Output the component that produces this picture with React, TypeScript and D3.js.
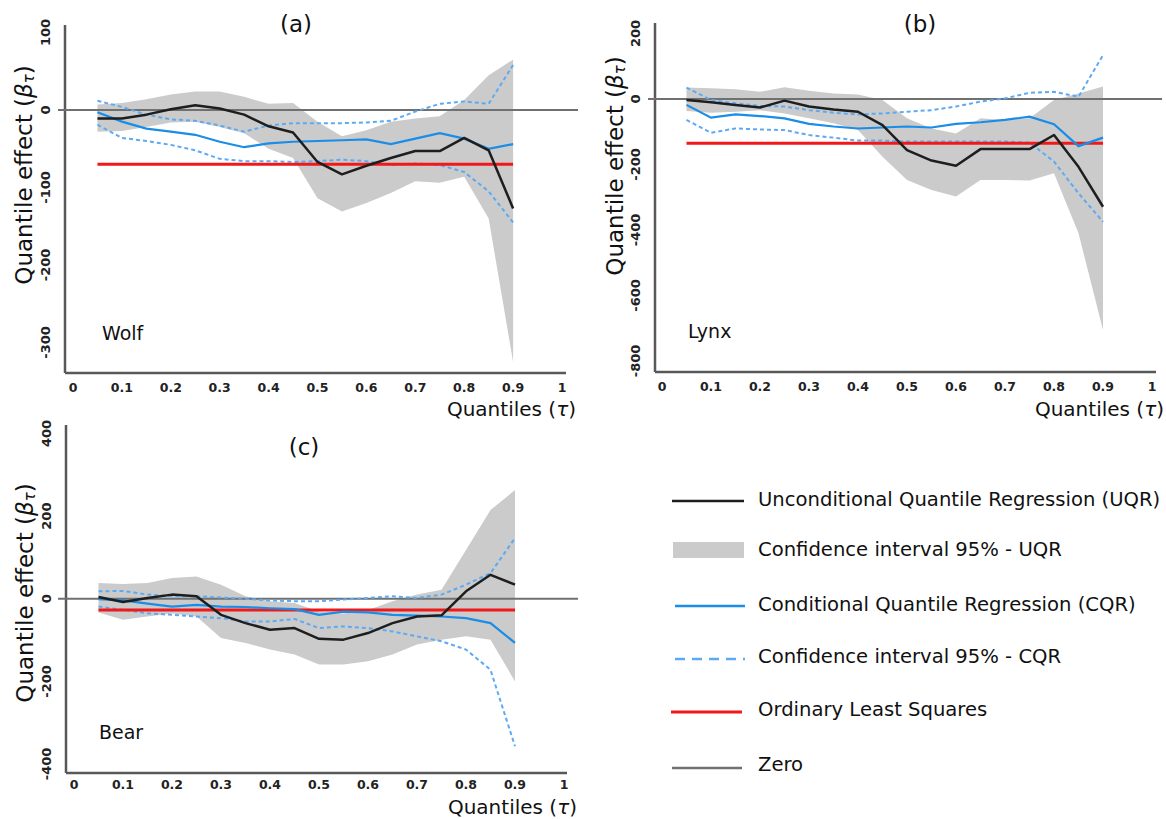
import React from 'react';
import * as d3 from 'd3';

// quantile grid and axis ticks
const quantiles = [0.05, 0.1, 0.15, 0.2, 0.25, 0.3, 0.35, 0.4, 0.45, 0.5, 0.55, 0.6, 0.65, 0.7, 0.75, 0.8, 0.85, 0.9];
const xTicks = [0, 0.1, 0.2, 0.3, 0.4, 0.5, 0.6, 0.7, 0.8, 0.9, 1];

// (a) Wolf
const wolfUqr = [-11, -11, -6, 1, 6, 2, -6, -21, -29, -67, -83, -72, -62, -53, -53, -36, -52, -127];
const wolfUqrHi = [7, 9, 14, 20, 24, 24, 17, 8, 9, -15, -34, -26, -15, -11, -8, 13, 45, 65];
const wolfUqrLo = [-28, -27, -22, -16, -15, -22, -30, -50, -62, -114, -131, -120, -107, -92, -94, -86, -140, -325];
const wolfCqr = [-3, -15, -24, -28, -32, -41, -48, -43, -41, -40, -39, -38, -44, -37, -30, -37, -50, -44];
const wolfCqrHi = [12, 4, -6, -12, -14, -20, -28, -20, -17, -17, -17, -16, -14, -2, 8, 11, 8, 58];
const wolfCqrLo = [-19, -36, -40, -45, -52, -63, -66, -66, -67, -66, -64, -66, -71, -69, -71, -80, -105, -145];
const wolfOls = -70;

// (b) Lynx
const lynxUqr = [-3, -10, -18, -26, -5, -23, -32, -39, -80, -156, -188, -204, -153, -153, -153, -110, -207, -329];
const lynxUqrHi = [35, 33, 30, 22, 36, 25, 17, 14, -3, -59, -90, -105, -59, -64, -59, -3, 17, 38];
const lynxUqrLo = [-37, -42, -39, -34, -44, -59, -74, -95, -176, -247, -278, -298, -247, -247, -249, -227, -410, -705];
const lynxCqr = [-18, -57, -47, -52, -59, -76, -84, -90, -87, -84, -87, -76, -71, -64, -54, -77, -144, -118];
const lynxCqrHi = [35, -3, -13, -21, -23, -34, -42, -47, -44, -39, -34, -23, -8, 2, 19, 22, 7, 134];
const lynxCqrLo = [-64, -103, -90, -93, -95, -110, -118, -127, -127, -130, -130, -130, -130, -130, -133, -191, -288, -375];
const lynxOls = -135;

// (c) Bear
const bearUqr = [4, -8, 2, 10, 6, -39, -59, -75, -71, -97, -99, -83, -59, -43, -40, 18, 58, 34];
const bearUqrHi = [38, 36, 38, 50, 54, 34, 6, -6, -10, -31, -36, -27, -6, 10, 22, 118, 215, 263];
const bearUqrLo = [-33, -51, -43, -36, -43, -95, -107, -123, -135, -159, -159, -151, -135, -111, -99, -91, -99, -200];
const bearCqr = [-1, -4, -12, -19, -15, -19, -20, -23, -25, -39, -31, -33, -39, -41, -43, -47, -59, -107];
const bearCqrHi = [18, 19, 10, 6, 6, 3, 0, -4, -6, -6, -2, 2, 6, 2, 10, 34, 62, 147];
const bearCqrLo = [-19, -27, -35, -39, -43, -47, -55, -55, -49, -71, -67, -71, -79, -91, -103, -123, -172, -357];
const bearOls = -27;

const wolfYTicks = [100, 0, -100, -200, -300];
const lynxYTicks = [200, 0, -200, -400, -600, -800];
const bearYTicks = [400, 200, 0, -200, -400];

const legendItems = [
  'Unconditional Quantile Regression (UQR)',
  'Confidence interval 95% - UQR',
  'Conditional Quantile Regression (CQR)',
  'Confidence interval 95% - CQR',
  'Ordinary Least Squares',
  'Zero',
];

const FONT = '"DejaVu Sans", Verdana, sans-serif';
const C_BLACK = '#1e1e1e';
const C_BLUE = '#1b8de6';
const C_DASH = '#5daaf2';
const C_BAND = '#cbcbcb';
const C_RED = '#f01818';
const C_ZERO = '#707070';
const C_AXIS = '#585858';

type PanelProps = {
  title: string;
  species: string;
  uqr: number[]; uqrHi: number[]; uqrLo: number[];
  cqr: number[]; cqrHi: number[]; cqrLo: number[];
  ols: number;
  yTicks: number[];
  xRange: [number, number];
  yDomain: [number, number];
  yRange: [number, number];
  axisX: number; axisTop: number; axisBottom: number; axisRight: number;
  zeroLeft: number; zeroRight: number;
  tickGap: number;
  titlePos: [number, number];
  speciesPos: [number, number];
  yLabelPos: [number, number];
  xLabelPos: [number, number];
};

function Panel(p: PanelProps) {
  const x = d3.scaleLinear().domain([0, 1]).range(p.xRange);
  const y = d3.scaleLinear().domain(p.yDomain).range(p.yRange);

  const line = d3.line<number>()
    .x((d, i) => x(quantiles[i]))
    .y(d => y(d));
  const band = d3.area<number>()
    .x((d, i) => x(quantiles[i]))
    .y0((d, i) => y(p.uqrLo[i]))
    .y1(d => y(d));

  const qMin = quantiles[0];
  const qMax = quantiles[quantiles.length - 1];

  return (
    <g>
      <path d={band(p.uqrHi) || ''} fill={C_BAND} />
      {/* axes */}
      <line x1={p.axisX} x2={p.axisX} y1={p.axisTop} y2={p.axisBottom} stroke={C_AXIS} strokeWidth={2.5} />
      <line x1={p.axisX} x2={p.axisRight} y1={p.axisBottom} y2={p.axisBottom} stroke={C_AXIS} strokeWidth={2.5} />
      <line x1={p.zeroLeft} x2={p.zeroRight} y1={y(0)} y2={y(0)} stroke={C_ZERO} strokeWidth={2} />
      <path d={line(p.cqrHi) || ''} fill="none" stroke={C_DASH} strokeWidth={2} strokeDasharray="4,3" />
      <path d={line(p.cqrLo) || ''} fill="none" stroke={C_DASH} strokeWidth={2} strokeDasharray="4,3" />
      <line x1={x(qMin)} x2={x(qMax)} y1={y(p.ols)} y2={y(p.ols)} stroke={C_RED} strokeWidth={3} />
      <path d={line(p.cqr) || ''} fill="none" stroke={C_BLUE} strokeWidth={2.2} />
      <path d={line(p.uqr) || ''} fill="none" stroke={C_BLACK} strokeWidth={2.5} strokeLinejoin="round" />

      {p.yTicks.map(t => (
        <text key={t} transform={`translate(${p.axisX - 20},${y(t)}) rotate(-90)`}
          textAnchor="middle" dominantBaseline="central" fontSize={13} fontWeight="bold" fill="#222">
          {t}
        </text>
      ))}
      {xTicks.map(t => (
        <text key={t} x={x(t)} y={p.axisBottom + p.tickGap} textAnchor="middle" dominantBaseline="central"
          fontSize={12.5} fontWeight="bold" fill="#222">
          {t === 0 || t === 1 ? String(t) : t.toFixed(1)}
        </text>
      ))}

      <text x={p.titlePos[0]} y={p.titlePos[1]} textAnchor="middle" dominantBaseline="central" fontSize={23} fill="#111">
        {p.title}
      </text>
      <text x={p.speciesPos[0]} y={p.speciesPos[1]} dominantBaseline="central" fontSize={19} fill="#111">
        {p.species}
      </text>
      <text transform={`translate(${p.yLabelPos[0]},${p.yLabelPos[1]}) rotate(-90)`} textAnchor="middle"
        dominantBaseline="central" fontSize={23} fill="#111">
        Quantile effect (<tspan fontStyle="italic">β</tspan>
        <tspan fontStyle="italic" fontSize={15} dy={5}>τ</tspan>
        <tspan dy={-5}>)</tspan>
      </text>
      <text x={p.xLabelPos[0]} y={p.xLabelPos[1]} textAnchor="end" dominantBaseline="central" fontSize={20} fill="#111">
        Quantiles (<tspan fontStyle="italic">τ</tspan>)
      </text>
    </g>
  );
}

function Legend() {
  const left = 672;
  const right = 744;
  const textX = 758;
  const rows = [500, 550, 605, 657, 710, 765];
  return (
    <g>
      {legendItems.map((label, i) => {
        const cy = rows[i];
        let swatch: React.ReactNode;
        if (i === 0) swatch = <line x1={left} x2={right} y1={cy + 1} y2={cy + 1} stroke={C_BLACK} strokeWidth={2.5} />;
        else if (i === 1) swatch = <rect x={left + 1} y={cy - 8} width={right - left - 1} height={16} fill={C_BAND} />;
        else if (i === 2) swatch = <line x1={left + 3} x2={right + 1} y1={cy + 1} y2={cy + 1} stroke={C_BLUE} strokeWidth={2.5} />;
        else if (i === 3) swatch = <line x1={left + 3} x2={right + 1} y1={cy + 2} y2={cy + 2} stroke={C_DASH} strokeWidth={2.5} strokeDasharray="10,7" />;
        else if (i === 4) swatch = <line x1={left - 1} x2={right - 2} y1={cy + 2} y2={cy + 2} stroke={C_RED} strokeWidth={3} />;
        else swatch = <line x1={left} x2={right - 2} y1={cy + 3} y2={cy + 3} stroke={C_ZERO} strokeWidth={2.5} />;
        return (
          <g key={label}>
            {swatch}
            <text x={textX} y={cy - 1} dominantBaseline="central" fontSize={19.6} fill="#111">{label}</text>
          </g>
        );
      })}
    </g>
  );
}

export default function App() {
  return (
    <svg width={1166} height={819} style={{ position: 'absolute', left: 0, top: 0, background: '#fff' }}
      fontFamily={FONT}>
      <Panel title="(a)" species="Wolf"
        uqr={wolfUqr} uqrHi={wolfUqrHi} uqrLo={wolfUqrLo}
        cqr={wolfCqr} cqrHi={wolfCqrHi} cqrLo={wolfCqrLo} ols={wolfOls}
        yTicks={wolfYTicks}
        xRange={[73, 562]} yDomain={[100, -300]} yRange={[32.5, 342.5]}
        axisX={65} axisTop={25} axisBottom={373} axisRight={566}
        zeroLeft={58} zeroRight={578} tickGap={14}
        titlePos={[296, 24]} speciesPos={[102, 333]}
        yLabelPos={[24, 175]} xLabelPos={[576, 409]} />
      <Panel title="(b)" species="Lynx"
        uqr={lynxUqr} uqrHi={lynxUqrHi} uqrLo={lynxUqrLo}
        cqr={lynxCqr} cqrHi={lynxCqrHi} cqrLo={lynxCqrLo} ols={lynxOls}
        yTicks={lynxYTicks}
        xRange={[662, 1152]} yDomain={[200, -800]} yRange={[33.5, 361]}
        axisX={655} axisTop={23} axisBottom={372} axisRight={1156}
        zeroLeft={648} zeroRight={1162} tickGap={14}
        titlePos={[920, 24]} speciesPos={[688, 331]}
        yLabelPos={[615, 166]} xLabelPos={[1164, 409]} />
      <Panel title="(c)" species="Bear"
        uqr={bearUqr} uqrHi={bearUqrHi} uqrLo={bearUqrLo}
        cqr={bearCqr} cqrHi={bearCqrHi} cqrLo={bearCqrLo} ols={bearOls}
        yTicks={bearYTicks}
        xRange={[74, 564]} yDomain={[400, -400]} yRange={[433.5, 764]}
        axisX={66} axisTop={425} axisBottom={773} axisRight={567}
        zeroLeft={58} zeroRight={578} tickGap={11}
        titlePos={[304, 447]} speciesPos={[99, 732]}
        yLabelPos={[25, 593]} xLabelPos={[577, 807]} />
      <Legend />
    </svg>
  );
}
